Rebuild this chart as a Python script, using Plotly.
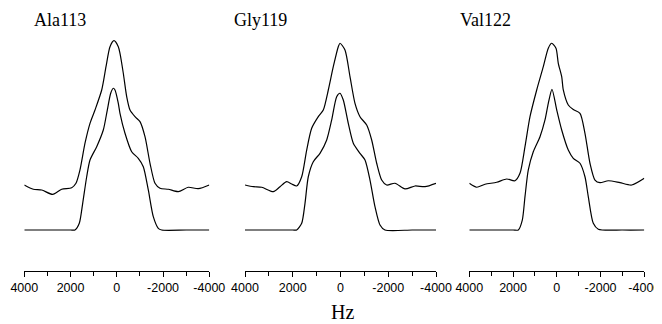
import plotly.graph_objects as go

# ---- data (Hz, relative intensity) ----
panel_titles = ["Ala113", "Gly119", "Val122"]
tick_vals = [4000, 2000, 0, -2000, -4000]
tick_text = ["4000", "2000", "0", "-2000", "-4000"]
minor_vals = [3000, 1000, -1000, -3000]

ala_upper_hz = [4000, 3611, 3248, 2772, 2383, 1950, 1765, 1592, 1375, 1159, 943, 653, 467, 294, 121,
                -65, -138, -281, -428, -571, -787, -1003, -1219, -1436, -1652, -1868, -2227, -2659,
                -3091, -3524, -4000]
ala_upper_i = [0.317, 0.287, 0.282, 0.251, 0.287, 0.298, 0.329, 0.423, 0.611, 0.751, 0.845, 0.986, 1.150,
               1.291, 1.333, 1.291, 1.244, 1.104, 0.939, 0.845, 0.798, 0.763, 0.657, 0.470, 0.329, 0.294,
               0.287, 0.270, 0.301, 0.291, 0.317]
ala_lower_hz = [4000, 3000, 2000, 1808, 1622, 1475, 1302, 1159, 869, 584, 411, 264, 152, 78, -65, -138,
                -354, -644, -929, -1146, -1362, -1578, -1794, -1941, -3000, -4000]
ala_lower_i = [0, 0, 0, 0, 0.047, 0.188, 0.375, 0.493, 0.587, 0.704, 0.845, 0.963, 0.998, 0.986, 0.892,
               0.822, 0.681, 0.551, 0.505, 0.446, 0.282, 0.094, 0.012, 0, 0, 0]

gly_upper_hz = [4000, 3652, 3301, 2815, 2534, 2254, 2044, 1835, 1625, 1416, 1207, 930, 721, 511, 302, 93,
                21, -188, -398, -607, -816, -1097, -1306, -1516, -1725, -1934, -2282, -2701, -3120,
                -3538, -4000]
gly_upper_i = [0.317, 0.305, 0.301, 0.270, 0.305, 0.340, 0.324, 0.310, 0.375, 0.563, 0.716, 0.798, 0.845,
               0.986, 1.150, 1.291, 1.315, 1.268, 1.080, 0.892, 0.798, 0.739, 0.634, 0.470, 0.352, 0.317,
               0.329, 0.289, 0.310, 0.305, 0.329]
gly_lower_hz = [4000, 3000, 2000, 1835, 1625, 1487, 1349, 1140, 859, 578, 369, 160, 21, -117, -326, -536,
                -816, -1026, -1235, -1444, -1654, -1863, -3000, -4000]
gly_lower_i = [0, 0, 0, 0, 0.047, 0.188, 0.375, 0.481, 0.540, 0.634, 0.775, 0.939, 0.963, 0.915, 0.751,
               0.611, 0.540, 0.493, 0.352, 0.164, 0.035, 0, 0, 0]

val_upper_hz = [4000, 3662, 3282, 2748, 2290, 1911, 1683, 1454, 1225, 919, 617, 389, 233, 37, -68, -224,
                -297, -525, -754, -1060, -1288, -1517, -1745, -1974, -2354, -2888, -3423, -4000]
val_upper_i = [0.329, 0.301, 0.322, 0.336, 0.359, 0.347, 0.399, 0.587, 0.798, 0.986, 1.150, 1.280, 1.315,
               1.280, 1.174, 1.080, 0.986, 0.880, 0.848, 0.822, 0.681, 0.470, 0.352, 0.333, 0.347, 0.333,
               0.317, 0.364]
val_lower_hz = [4000, 3000, 2000, 1760, 1577, 1454, 1303, 1075, 768, 540, 389, 220, 3, -224, -525, -754,
                -1060, -1288, -1439, -1668, -1897, -3000, -4000]
val_lower_i = [0, 0, 0, 0, 0.070, 0.235, 0.423, 0.551, 0.657, 0.775, 0.892, 0.991, 0.845, 0.704, 0.563,
               0.505, 0.470, 0.375, 0.235, 0.047, 0.005, 0, 0]

panels = [
    (ala_upper_hz, ala_upper_i, ala_lower_hz, ala_lower_i),
    (gly_upper_hz, gly_upper_i, gly_lower_hz, gly_lower_i),
    (val_upper_hz, val_upper_i, val_lower_hz, val_lower_i),
]

# the page body adds an 8 px margin, so the figure is 8 px smaller and positions are shifted
OFF = 8
W, H = 662 - OFF, 324 - OFF
x_px = [(24.3, 209.3), (245, 436), (469.3, 644.3)]   # screen pixels of each x axis
title_px = [32, 231.5, 458]
axis_y_px = 271


def fx(px):
    return (px - OFF) / W


def fy(py):
    return 1 - (py - OFF) / H


fig = go.Figure()
line_style = dict(color="black", width=1.2, shape="spline", smoothing=0.7)

for k, (uh, ui, lh, li) in enumerate(panels):
    xa = "x" if k == 0 else f"x{k+1}"
    ya = "y" if k == 0 else f"y{k+1}"
    fig.add_trace(go.Scatter(x=uh, y=ui, mode="lines", line=line_style, xaxis=xa, yaxis=ya,
                             showlegend=False, hoverinfo="skip", cliponaxis=False))
    fig.add_trace(go.Scatter(x=lh, y=li, mode="lines", line=line_style, xaxis=xa, yaxis=ya,
                             showlegend=False, hoverinfo="skip", cliponaxis=False))

y_range = [(230 - axis_y_px) / 142, (230 - OFF) / 142]

layout = dict(
    width=W, height=H, margin=dict(l=0, r=0, t=0, b=0, autoexpand=False),
    paper_bgcolor="white", plot_bgcolor="white", showlegend=False,
)
for k in range(3):
    xs = "xaxis" if k == 0 else f"xaxis{k+1}"
    ys = "yaxis" if k == 0 else f"yaxis{k+1}"
    anchor_y = "y" if k == 0 else f"y{k+1}"
    anchor_x = "x" if k == 0 else f"x{k+1}"
    l, r = x_px[k]
    layout[xs] = dict(
        domain=[fx(l), fx(r)], range=[4000, -4000], anchor=anchor_y, automargin=False,
        showline=True, linecolor="black", linewidth=1, showgrid=False, zeroline=False,
        ticks="outside", ticklen=5, tickwidth=1, tickcolor="black",
        tickvals=tick_vals, ticktext=tick_text, ticklabeloverflow="allow", tickangle=0,
        tickfont=dict(family="Liberation Sans, Arial", size=12.5, color="black"),
        minor=dict(ticks="outside", tickvals=minor_vals, ticklen=4,
                   tickwidth=1, tickcolor="black"),
        fixedrange=True,
    )
    layout[ys] = dict(
        domain=[fy(axis_y_px), 1], range=y_range, anchor=anchor_x, automargin=False,
        visible=False, showgrid=False, zeroline=False, fixedrange=True,
    )
fig.update_layout(**layout)

for k, t in enumerate(panel_titles):
    fig.add_annotation(text=t, xref="paper", yref="paper", x=fx(title_px[k]), y=fy(20),
                       xanchor="left", yanchor="middle", showarrow=False,
                       font=dict(family="Liberation Serif, Times New Roman", size=18, color="black"))

fig.add_annotation(text="Hz", xref="paper", yref="paper", x=fx(342), y=0,
                   xanchor="center", yanchor="bottom", showarrow=False, borderpad=0,
                   font=dict(family="Liberation Serif, Times New Roman", size=20, color="black"))

fig.write_html("out.html", config={"displayModeBar": False})
